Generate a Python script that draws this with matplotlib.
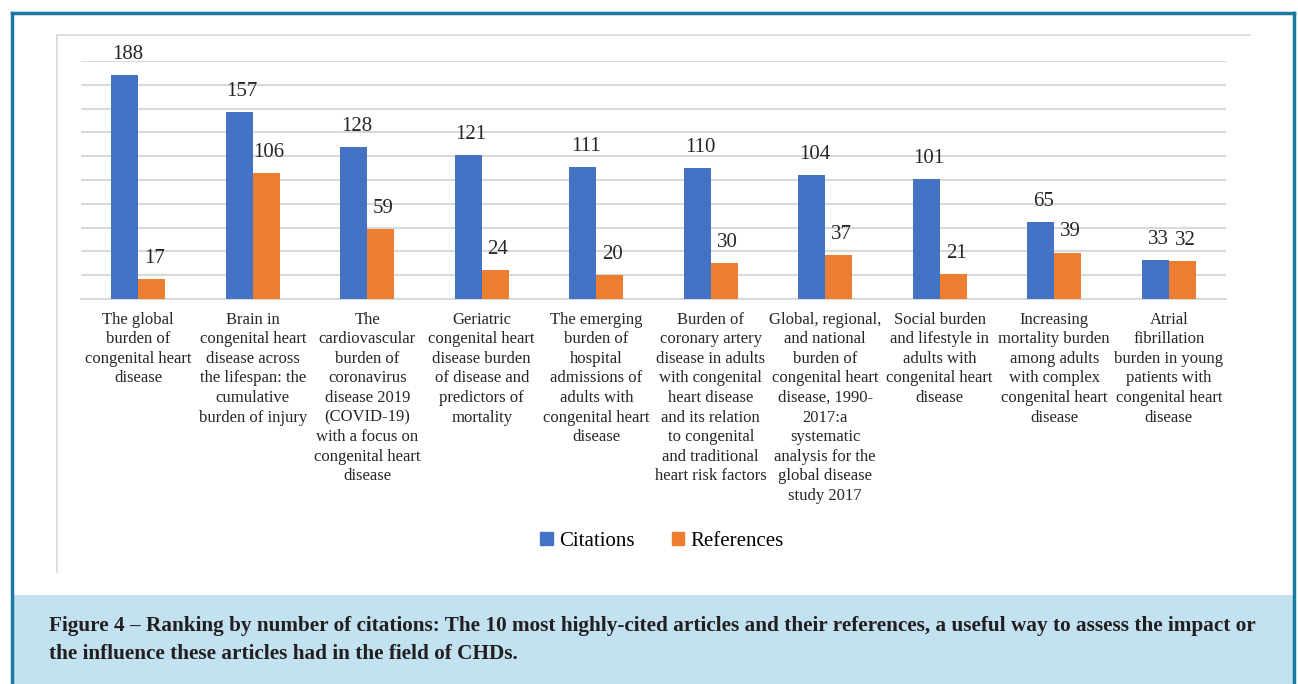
import matplotlib
matplotlib.use("Agg")
import matplotlib.pyplot as plt
from matplotlib.patches import Rectangle, Patch
from matplotlib.lines import Line2D
import numpy as np

W, H = 1298, 684

articles = [
    "The global\nburden of\ncongenital heart\ndisease",
    "Brain in\ncongenital heart\ndisease across\nthe lifespan: the\ncumulative\nburden of injury",
    "The\ncardiovascular\nburden of\ncoronavirus\ndisease 2019\n(COVID-19)\nwith a focus on\ncongenital heart\ndisease",
    "Geriatric\ncongenital heart\ndisease burden\nof disease and\npredictors of\nmortality",
    "The emerging\nburden of\nhospital\nadmissions of\nadults with\ncongenital heart\ndisease",
    "Burden of\ncoronary artery\ndisease in adults\nwith congenital\nheart disease\nand its relation\nto congenital\nand traditional\nheart risk factors",
    "Global, regional,\nand national\nburden of\ncongenital heart\ndisease, 1990-\n2017:a\nsystematic\nanalysis for the\nglobal disease\nstudy 2017",
    "Social burden\nand lifestyle in\nadults with\ncongenital heart\ndisease",
    "Increasing\nmortality burden\namong adults\nwith complex\ncongenital heart\ndisease",
    "Atrial\nfibrillation\nburden in young\npatients with\ncongenital heart\ndisease",
]
citations = [188, 157, 128, 121, 111, 110, 104, 101, 65, 33]
references = [17, 106, 59, 24, 20, 30, 37, 21, 39, 32]

BLUE = "#4472c4"
ORANGE = "#ed7d31"
GRID = "#d9d9d9"
SERIF = ["Liberation Serif", "DejaVu Serif"]

caption = ("Figure 4 \u2013 Ranking by number of citations: The 10 most highly-cited articles and their references, "
           "a useful way to assess the impact or\nthe influence these articles had in the field of CHDs.")


def fx(px):
    return px / W


def fy(py):
    return 1 - py / H


fig = plt.figure(figsize=(W / 100, H / 100), dpi=100)
fig.patch.set_facecolor("white")

# ── frame and caption box ─────────────────────────────────────────────────────
fig.patches.append(Rectangle((fx(13), 0), fx(1293) - fx(13), fy(595), transform=fig.transFigure,
                             facecolor="#c2e1f1", edgecolor="none", zorder=0))
border = "#1b7aa2"
fig.lines.append(Line2D([fx(12), fx(12)], [0, fy(13)], transform=fig.transFigure, color=border, lw=2.5))
fig.lines.append(Line2D([fx(1294), fx(1294)], [0, fy(13)], transform=fig.transFigure, color=border, lw=2.5))
fig.lines.append(Line2D([fx(12), fx(1294)], [fy(13), fy(13)], transform=fig.transFigure, color=border, lw=2.5))
# inner chart frame (top + left only)
fig.lines.append(Line2D([fx(57), fx(1250)], [fy(35), fy(35)], transform=fig.transFigure, color=GRID, lw=1.2))
fig.lines.append(Line2D([fx(57), fx(57)], [fy(35), fy(572)], transform=fig.transFigure, color=GRID, lw=1.2))

fig.text(fx(49), fy(640), caption, fontsize=15.3, fontweight="bold", family=SERIF,
         color="#231f20", va="center", ha="left", linespacing=1.5)

# ── chart ─────────────────────────────────────────────────────────────────────
ax = fig.add_axes([fx(81), fy(299), fx(1226) - fx(81), fy(61) - fy(299)])
x = np.arange(len(articles))
bw = 0.236
b1 = ax.bar(x - bw / 2, citations, bw, color=BLUE, label="Citations", zorder=3)
b2 = ax.bar(x + bw / 2, references, bw, color=ORANGE, label="References", zorder=3)

for bars in (b1, b2):
    for bar in bars:
        h = bar.get_height()
        ax.annotate(f"{h:.0f}", (bar.get_x() + bar.get_width() / 2, h), xytext=(2, 8),
                    textcoords="offset points", ha="center", va="bottom",
                    fontsize=15, family=SERIF, color="#262626")

ax.set_xlim(-0.5, len(articles) - 0.5)
ax.set_ylim(0, 200)
ax.set_yticks(np.arange(0, 201, 20))
ax.yaxis.grid(True, color=GRID, lw=1.5, zorder=0)
ax.tick_params(axis="y", left=False, labelleft=False)
ax.set_xticks(x)
ax.set_xticklabels(articles, fontsize=12, family=SERIF, color="#262626", linespacing=1.3)
ax.tick_params(axis="x", length=0, pad=9)
for s in ("top", "right", "left"):
    ax.spines[s].set_visible(False)
ax.spines["bottom"].set_color(GRID)
ax.spines["bottom"].set_linewidth(1.5)
ax.set_facecolor("none")

handles = [Patch(color=BLUE), Patch(color=ORANGE)]
fig.legend(handles, ["Citations", "References"], loc="center", bbox_to_anchor=(fx(662), fy(541)),
           ncol=2, frameon=False, prop={"family": SERIF, "size": 15},
           handlelength=0.6, handleheight=0.6, handletextpad=0.3, columnspacing=1.8)

fig.savefig("out.png", dpi=100)
